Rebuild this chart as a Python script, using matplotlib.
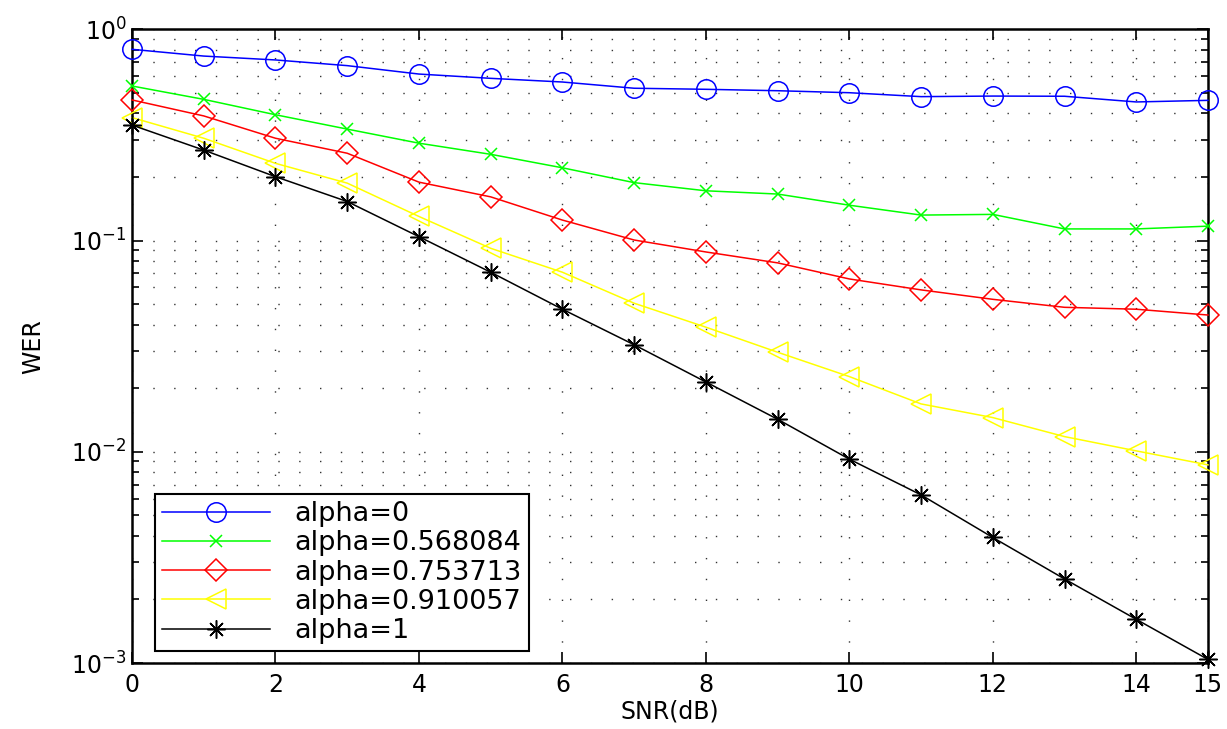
import numpy as np
from matplotlib import pyplot as plt
from matplotlib.ticker import LogLocator, FixedLocator, NullFormatter

# Datos
snr = np.arange(0, 16)
wer_a0 = [0.804, 0.747, 0.716, 0.673, 0.614, 0.586, 0.563, 0.526,
          0.520, 0.512, 0.501, 0.480, 0.483, 0.482, 0.453, 0.461]
wer_a1 = [0.539, 0.466, 0.394, 0.337, 0.289, 0.256, 0.221, 0.188,
          0.172, 0.166, 0.147, 0.132, 0.133, 0.1135, 0.1135, 0.117]
wer_a2 = [0.463, 0.389, 0.305, 0.259, 0.189, 0.161, 0.125, 0.1006,
          0.0883, 0.0784, 0.0658, 0.0584, 0.0527, 0.0483, 0.0473, 0.0444]
wer_a3 = [0.382, 0.305, 0.232, 0.187, 0.130, 0.0919, 0.0708, 0.0505,
          0.0389, 0.0296, 0.0227, 0.01685, 0.01452, 0.0118, 0.0101, 0.00867]
wer_a4 = [0.352, 0.268, 0.2006, 0.153, 0.1043, 0.0708, 0.0473, 0.0321,
          0.0214, 0.01426, 0.00923, 0.00625, 0.00393, 0.0025, 0.00161, 0.00104]
labels = ['alpha=0', 'alpha=0.568084', 'alpha=0.753713',
          'alpha=0.910057', 'alpha=1']
xticks = [0, 2, 4, 6, 8, 10, 12, 14, 15]

plt.rcParams['font.family'] = ['DejaVu Sans']
plt.rcParams['font.size'] = 17
plt.rcParams['mathtext.default'] = 'regular'

fig = plt.figure(figsize=(12.27, 7.29), dpi=100)
ax = fig.add_axes([0.1076, 0.0905, 0.8769, 0.8693])

series = [wer_a0, wer_a1, wer_a2, wer_a3, wer_a4]
colors = ['#0000ff', '#00ff00', '#ff0000', '#ffff00', '#000000']
markers = ['o', 'x', 'D', '<', (8, 2, 0)]
msizes = [14, 9, 11, 14, 13]

for y, c, m, ms, lab in zip(series, colors, markers, msizes, labels):
    ax.semilogy(snr, y, color=c, marker=m, markersize=ms, markerfacecolor='none',
                markeredgecolor=c, markeredgewidth=1.1, linewidth=1.1,
                label=lab, clip_on=False, zorder=3)

ax.set_xlim(0, 15)
ax.set_ylim(1e-3, 1)
ax.xaxis.set_major_locator(FixedLocator(xticks))
ax.yaxis.set_major_locator(LogLocator(base=10, numticks=10))
ax.yaxis.set_minor_locator(LogLocator(base=10, subs=np.arange(2, 10), numticks=20))
ax.yaxis.set_minor_formatter(NullFormatter())

# Rejilla punteada estilo MATLAB
dots = (0, (1, 14))
ax.grid(True, which='major', axis='x', color='#333333', linestyle=dots, linewidth=1.0)
ax.grid(True, which='both', axis='y', color='#333333', linestyle=dots, linewidth=1.0)

ax.tick_params(which='both', direction='in', top=True, right=True, width=1.2)
ax.tick_params(which='major', length=8, pad=7)
ax.tick_params(which='minor', length=5)
ax.tick_params(axis='y', which='major', pad=4)
for s in ax.spines.values():
    s.set_linewidth(1.8)

ax.set_xlabel('SNR(dB)', labelpad=2)
ax.set_ylabel('WER', labelpad=19)

leg = ax.legend(loc='lower left', bbox_to_anchor=(0.0214, 0.019), borderaxespad=0,
                fancybox=False, edgecolor='black', framealpha=1,
                prop={'size': 19.5},
                handlelength=4.0, handletextpad=0.9, labelspacing=0.12,
                borderpad=0.25)
leg.get_frame().set_linewidth(1.5)

fig.savefig('out.png', dpi=100)
